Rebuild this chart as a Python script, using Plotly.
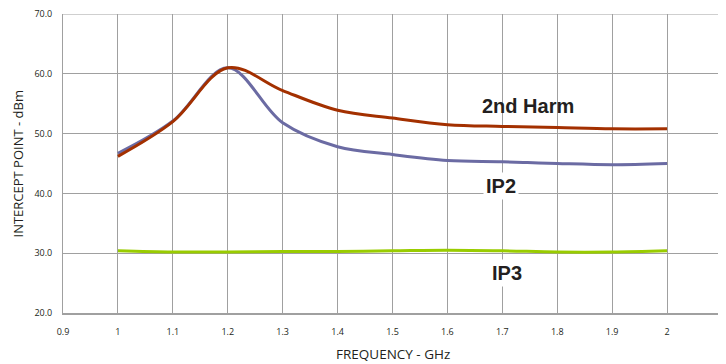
import plotly.graph_objects as go

freq = [1.0, 1.1, 1.2, 1.3, 1.4, 1.5, 1.6, 1.7, 1.8, 1.9, 2.0]
harm2 = [46.2, 52.0, 61.0, 57.2, 53.9, 52.6, 51.5, 51.2, 51.0, 50.8, 50.8]
ip2 = [46.7, 52.1, 61.0, 51.8, 47.8, 46.5, 45.5, 45.3, 45.0, 44.8, 45.0]
ip3 = [30.4, 30.2, 30.2, 30.3, 30.3, 30.4, 30.5, 30.4, 30.2, 30.2, 30.4]
xticks = [0.9, 1.0, 1.1, 1.2, 1.3, 1.4, 1.5, 1.6, 1.7, 1.8, 1.9, 2.0, 2.1]
xticklabels = ["0.9", "1", "1.1", "1.2", "1.3", "1.4", "1.5", "1.6", "1.7", "1.8", "1.9", "2", "2.1"]
yticks = [20, 30, 40, 50, 60, 70]

fig = go.Figure()
fig.add_trace(go.Scatter(x=freq, y=ip3, mode="lines", line=dict(color="#99CC00", width=3, shape="spline", smoothing=1.0), name="IP3"))
fig.add_trace(go.Scatter(x=freq, y=ip2, mode="lines", line=dict(color="#6B6BA3", width=3, shape="spline", smoothing=1.0), name="IP2"))
fig.add_trace(go.Scatter(x=freq, y=harm2, mode="lines", line=dict(color="#A33000", width=3, shape="spline", smoothing=1.0), name="2nd Harm"))

lab_font = dict(family="Liberation Sans, Arial", size=20, color="#231F20")
fig.add_annotation(x=1.747, y=54.6, text="<b>2nd Harm</b>", showarrow=False, font=lab_font)
fig.add_annotation(x=1.698, y=41.2, text="<b>IP2</b>", showarrow=False, font=lab_font, bgcolor="white", borderpad=2)
fig.add_annotation(x=1.709, y=26.7, text="<b>IP3</b>", showarrow=False, font=lab_font, bgcolor="white", borderpad=2)

# plot area (figure px): left 55, right 714, top 6, bottom 305
fig.add_annotation(xref="paper", yref="paper", x=0.5, y=-0.137, yanchor="middle", xanchor="center",
                   text="FREQUENCY - GHz", showarrow=False, font=dict(size=13.5, color="#231F20"))
fig.add_annotation(xref="paper", yref="paper", x=-0.0683, y=0.5, xanchor="center", yanchor="middle",
                   text="INTERCEPT POINT - dBm", textangle=-90, showarrow=False, font=dict(size=13, color="#231F20"))

fig.update_layout(
    width=718, height=356,
    margin=dict(l=55, r=4, t=6, b=51),
    plot_bgcolor="white", paper_bgcolor="white",
    showlegend=False,
    font=dict(family="Open Sans, DejaVu Sans", color="#231F20"),
)
fig.update_xaxes(
    range=[0.9, 2.1], tickvals=xticks, ticktext=xticklabels,
    showgrid=True, gridcolor="#A0A0A0", gridwidth=1,
    showline=True, linecolor="#A0A0A0", linewidth=2, mirror=False,
    tickfont=dict(size=9), ticks="", ticklabelstandoff=9,
    automargin=False, zeroline=False,
)
fig.update_yaxes(
    range=[20, 70], tickvals=yticks, tickformat=".1f",
    showgrid=True, gridcolor="#A0A0A0", gridwidth=1,
    showline=True, linecolor="#A0A0A0", linewidth=1,
    tickfont=dict(size=9), ticks="", ticklabelstandoff=8,
    ticklabeloverflow="allow",
    automargin=False, zeroline=False,
)
fig.add_shape(type="line", xref="x", yref="paper", x0=2.1, x1=2.1, y0=0, y1=1, line=dict(color="#A0A0A0", width=1))
fig.add_shape(type="line", xref="paper", yref="y", x0=0, x1=1, y0=70, y1=70, line=dict(color="#A0A0A0", width=1))

fig.write_html("out.html")
